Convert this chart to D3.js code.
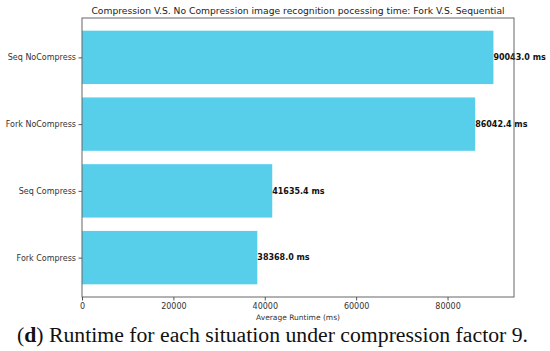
<!DOCTYPE html>
<html>
<head>
<meta charset="utf-8">
<script src="https://cdn.jsdelivr.net/npm/d3@7"></script>
<style>
  body { margin: 0; background: #fff; }
  text { font-family: "DejaVu Sans", sans-serif; }
</style>
</head>
<body>
<svg id="chart"></svg>
<script>
var width = 550;
var height = 351;

var categories = ["Fork Compress", "Seq Compress", "Fork NoCompress", "Seq NoCompress"];
var runtimes = [38368.0, 41635.4, 86042.4, 90043.0];
var xTicks = [0, 20000, 40000, 60000, 80000];

var plotLeft = 82, plotRight = 514, plotTop = 18, plotBottom = 297;

var svg = d3.select("#chart")
            .attr("width", width)
            .attr("height", height);

var xScale = d3.scaleLinear()
               .domain([0, d3.max(runtimes) * 1.05])
               .range([plotLeft, plotRight]);

var yScale = d3.scaleLinear()
               .domain([-0.59, 3.59])
               .range([plotBottom, plotTop]);

var barH = yScale(0) - yScale(0.8);

svg.selectAll("rect.bar")
   .data(runtimes)
   .enter()
   .append("rect")
     .attr("class", "bar")
     .attr("x", xScale(0))
     .attr("y", (d, i) => yScale(i + 0.4))
     .attr("width", d => xScale(d) - xScale(0))
     .attr("height", barH)
     .attr("fill", "#57cfeb");

svg.selectAll("text.val")
   .data(runtimes)
   .enter()
   .append("text")
     .attr("class", "val")
     .attr("x", d => xScale(d))
     .attr("y", (d, i) => yScale(i))
     .attr("dy", "0.35em")
     .attr("font-size", "8px")
     .attr("font-weight", "bold")
     .attr("fill", "#111")
     .text(d => d.toFixed(1) + " ms");

// frame
svg.append("rect")
   .attr("x", plotLeft)
   .attr("y", plotTop)
   .attr("width", plotRight - plotLeft)
   .attr("height", plotBottom - plotTop)
   .attr("fill", "none")
   .attr("stroke", "#666")
   .attr("stroke-width", 1);

var xAxis = d3.axisBottom(xScale)
              .tickValues(xTicks)
              .tickFormat(d3.format("d"))
              .tickSize(3.5)
              .tickPadding(2.5)
              .tickSizeOuter(0);

var yAxis = d3.axisLeft(yScale)
              .tickValues(d3.range(categories.length))
              .tickFormat(i => categories[i])
              .tickSize(3.5)
              .tickPadding(2.5)
              .tickSizeOuter(0);

var gx = svg.append("g")
    .attr("transform", "translate(0," + plotBottom + ")")
    .call(xAxis);

var gy = svg.append("g")
    .attr("transform", "translate(" + plotLeft + ",0)")
    .call(yAxis);

[gx, gy].forEach(g => {
  g.select(".domain").remove();
  g.selectAll(".tick line").attr("stroke", "#555");
  g.selectAll(".tick text")
   .attr("font-size", "8px")
   .attr("fill", "#333")
   .style("font-family", "DejaVu Sans");
});

svg.append("text")
   .attr("x", (plotLeft + plotRight) / 2)
   .attr("y", 319.5)
   .attr("text-anchor", "middle")
   .attr("font-size", "7.5px")
   .attr("fill", "#333")
   .text("Average Runtime (ms)");

svg.append("text")
   .attr("x", (plotLeft + plotRight) / 2)
   .attr("y", 14)
   .attr("text-anchor", "middle")
   .attr("font-size", "9.2px")
   .attr("fill", "#222")
   .text("Compression V.S. No Compression image recognition pocessing time: Fork V.S. Sequential");

var cap = svg.append("text")
   .attr("x", 17)
   .attr("y", 341.5)
   .attr("font-size", "20.5px")
   .attr("fill", "#111")
   .attr("textLength", 511)
   .attr("lengthAdjust", "spacingAndGlyphs")
   .style("font-family", "'Liberation Serif', serif");
cap.append("tspan").text("(");
cap.append("tspan").attr("font-weight", "bold").text("d");
cap.append("tspan").text(") Runtime for each situation under compression factor 9.");
</script>
</body>
</html>
